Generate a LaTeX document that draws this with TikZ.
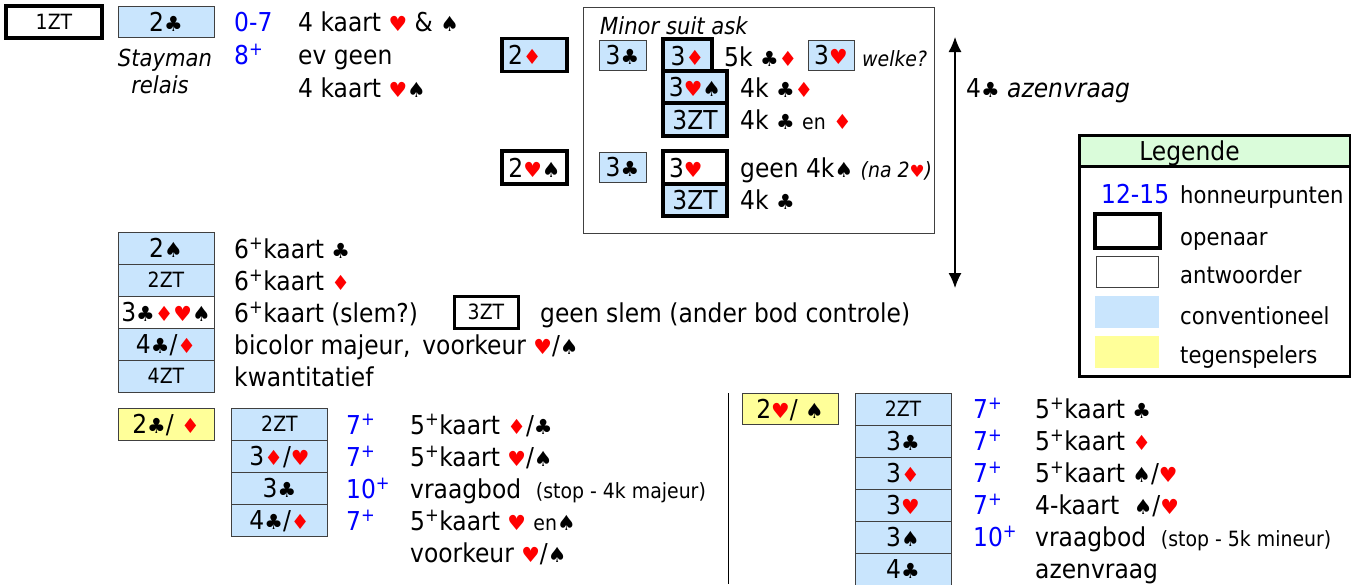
\documentclass[tikz,border=0pt]{standalone}
\usepackage{fontspec}
\setmainfont[FakeStretch=0.9]{DejaVu Sans}
\newfontfamily\suitfont[Scale=0.8]{DejaVu Sans}
\usepackage{xcolor}
\usepackage{tikz}
\usetikzlibrary{arrows.meta}
\definecolor{convblue}{HTML}{C9E5FD}
\definecolor{oppyellow}{HTML}{FFFF99}
\definecolor{legendgreen}{HTML}{DAFCDA}
\definecolor{ptsblue}{HTML}{0000FF}
\definecolor{suitred}{HTML}{FF0000}
\definecolor{boxgray}{HTML}{404040}
\newcommand{\sclub}{{\suitfont ♣}}
\newcommand{\sdia}{{\color{suitred}\suitfont ♦}}
\newcommand{\shrt}{{\color{suitred}\suitfont ♥}}
\newcommand{\sspd}{{\suitfont ♠}}
\newcommand{\plus}{\textsuperscript{+}}
\newcommand{\smalltxt}[1]{{\fontsize{21}{24}\selectfont #1}}

\begin{document}
\begin{tikzpicture}[x=1pt,y=-1pt,
	every node/.style={font=\fontsize{26}{30}\selectfont,inner sep=0pt,text height=19pt,text depth=0pt},
	txt/.style={anchor=west},
	pts/.style={anchor=west,text=ptsblue},
	small/.style={font=\fontsize{21}{24}\selectfont,text height=15pt},
	note/.style={font=\fontsize{23.5}{27}\selectfont\itshape},
	bid/.style={draw=boxgray,line width=0.8pt,minimum width=96pt,minimum height=32pt},
	conv/.style={bid,fill=convblue},
	opp/.style={bid,fill=oppyellow},
	opener/.style={draw=black,line width=3.6pt,minimum width=64pt,minimum height=32pt}]
	\useasboundingbox (0,0) rectangle (1351,584);
	% opening and Stayman
	\node[opener,fill=white,small,minimum width=96pt] (O1) at (54,22) {1ZT};
	\node[conv,minimum height=31pt] (S1) at (166,22) {2\sclub};
	\node[note] (S2) at (165,57) {Stayman};
	\node[note] (S3) at (160,84) {relais};
	\node[pts] (P1) at (234,22) {0-7};
	\node[pts] (P2) at (234,55) {8\plus};
	\node[txt] (R1) at (298,22) {4 kaart \shrt{} \& \sspd};
	\node[txt] (R2) at (298,55) {ev geen};
	\node[txt] (R3) at (298,88) {4 kaart \shrt\sspd};
	% minor suit ask
	\node[draw=boxgray,line width=0.8pt,minimum width=351pt,minimum height=226pt] (M0) at (758.5,120) {};
	\node[note,anchor=west] (M1) at (600,25) {Minor suit ask};
	\node[opener,fill=convblue,minimum width=65pt,minimum height=33pt,text width=53pt,align=left] (M2) at (534.5,55) {2\sdia};
	\node[conv,minimum width=47pt,minimum height=30pt] (M3) at (622.5,55) {3\sclub};
	\node[opener,fill=convblue,minimum width=49pt,minimum height=33pt] (M4) at (687.5,55.5) {3\sdia};
	\node[txt] (M5) at (724,57) {5k \sclub\sdia};
	\node[conv,minimum width=46pt,minimum height=30pt] (M6) at (831,55) {3\shrt};
	\node[note,font=\fontsize{21}{24}\selectfont\itshape,anchor=west] (M7) at (862,57) {welke?};
	\node[opener,fill=convblue] (M8) at (695,87) {3\shrt\sspd};
	\node[txt] (M9) at (740,88) {4k \sclub\sdia};
	\node[opener,fill=convblue,minimum height=33pt] (M10) at (695,119.5) {3ZT};
	\node[txt] (M11) at (740,120) {4k \sclub{} \smalltxt{en} \sdia};
	\node[opener,fill=white,minimum width=65pt,minimum height=33pt] (M12) at (534.5,167.5) {2\shrt\sspd};
	\node[conv,minimum width=47pt,minimum height=30pt] (M13) at (622.5,167) {3\sclub};
	\node[opener,fill=white,minimum height=33pt,text width=52pt,align=left] (M14) at (695,167.5) {3\shrt};
	\node[txt] (M15) at (740,168) {geen 4k\sspd{} {\fontsize{21}{24}\selectfont\itshape (na 2\shrt)}};
	\node[opener,fill=convblue] (M16) at (695,200) {3ZT};
	\node[txt] (M17) at (740,200) {4k \sclub};
	% ace ask range
	\coordinate (A1) at (955,37);
	\coordinate (A2) at (955,288);
	\draw[{Latex[length=15pt,width=13pt]}-{Latex[length=15pt,width=13pt]},line width=1.2pt] (A1) -- (A2);
	\node[txt] (A3) at (966,88) {4\sclub{} \textit{azenvraag}};
	% legend
	\node[draw=black,line width=3pt,fill=white,minimum width=271pt,minimum height=241pt] (L0) at (1214.5,255.5) {};
	\node[draw=black,line width=3pt,fill=legendgreen,minimum width=271pt,minimum height=31pt] (L1) at (1214.5,150.5) {Legende\hspace*{50pt}};
	\node[pts] (L2) at (1101,194) {12-15};
	\node[txt,font=\fontsize{23.5}{27}\selectfont] (L3) at (1180,194) {honneurpunten};
	\node[draw=black,line width=3.6pt,minimum width=65pt,minimum height=34pt] (L4) at (1127.5,231) {};
	\node[txt,font=\fontsize{23.5}{27}\selectfont] (L5) at (1180,236) {openaar};
	\node[draw=boxgray,line width=0.8pt,minimum width=62pt,minimum height=31pt] (L6) at (1127,271.5) {};
	\node[txt,font=\fontsize{23.5}{27}\selectfont] (L7) at (1180,274) {antwoorder};
	\node[fill=convblue,minimum width=64pt,minimum height=32pt] (L8) at (1127,312) {};
	\node[txt,font=\fontsize{23.5}{27}\selectfont] (L9) at (1180,315) {conventioneel};
	\node[fill=oppyellow,minimum width=64pt,minimum height=32pt] (L10) at (1127,352) {};
	\node[txt,font=\fontsize{23.5}{27}\selectfont] (L11) at (1180,354) {tegenspelers};
	% other responses
	\node[conv] (C1) at (166,248) {2\sspd};
	\node[conv,small] (C2) at (166,280) {2ZT};
	\node[bid,fill=white] (C3) at (166,312) {3\sclub\sdia\shrt\sspd};
	\node[conv] (C4) at (166,344) {4\sclub/\sdia};
	\node[conv,small] (C5) at (166,376) {4ZT};
	\node[txt] (C6) at (234,249) {6\plus kaart \sclub};
	\node[txt] (C7) at (234,281) {6\plus kaart \sdia};
	\node[txt] (C8) at (234,313) {6\plus kaart (slem?)};
	\node[txt] (C9) at (234,345) {bicolor majeur,\, voorkeur \shrt/\sspd};
	\node[txt] (C10) at (234,377) {kwantitatief};
	\node[opener,fill=white,small,line width=3pt] (C11) at (486,312) {3ZT};
	\node[txt] (C12) at (540,313) {geen slem (ander bod controle)};
	% overcall 2 minor
	\node[opp] (B1) at (166,424) {2\sclub/ \sdia};
	\node[conv,small] (B2) at (279.5,424) {2ZT};
	\node[conv] (B3) at (279.5,456) {3\sdia/\shrt};
	\node[conv] (B4) at (279.5,488) {3\sclub};
	\node[conv] (B5) at (279.5,520) {4\sclub/\sdia};
	\node[pts] (B6) at (346,425) {7\plus};
	\node[pts] (B7) at (346,457) {7\plus};
	\node[pts] (B8) at (346,489) {10\plus};
	\node[pts] (B9) at (346,521) {7\plus};
	\node[txt] (B10) at (410,425) {5\plus kaart \sdia/\sclub};
	\node[txt] (B11) at (410,457) {5\plus kaart \shrt/\sspd};
	\node[txt] (B12) at (410,489) {vraagbod\; \smalltxt{(stop - 4k majeur)}};
	\node[txt] (B13) at (410,521) {5\plus kaart \shrt{} \smalltxt{en}\sspd};
	\node[txt] (B14) at (410,553) {voorkeur \shrt/\sspd};
	\coordinate (D1) at (728,393);
	\coordinate (D2) at (728,584);
	\draw[line width=1pt] (D1) -- (D2);
	% overcall 2 major
	\node[opp,minimum height=31pt] (H1) at (790,408.5) {2\shrt/ \sspd};
	\node[conv,small] (H2) at (903,409) {2ZT};
	\node[conv] (H3) at (903,441) {3\sclub};
	\node[conv] (H4) at (903,473) {3\sdia};
	\node[conv] (H5) at (903,505) {3\shrt};
	\node[conv] (H6) at (903,537) {3\sspd};
	\node[conv] (H7) at (903,569) {4\sclub};
	\node[pts] (H8) at (973,409) {7\plus};
	\node[pts] (H9) at (973,441) {7\plus};
	\node[pts] (H10) at (973,473) {7\plus};
	\node[pts] (H11) at (973,505) {7\plus};
	\node[pts] (H12) at (973,537) {10\plus};
	\node[txt] (H13) at (1035,409) {5\plus kaart \sclub};
	\node[txt] (H14) at (1035,441) {5\plus kaart \sdia};
	\node[txt] (H15) at (1035,473) {5\plus kaart \sspd/\shrt};
	\node[txt] (H16) at (1035,505) {4-kaart\; \sspd/\shrt};
	\node[txt] (H17) at (1035,537) {vraagbod\; \smalltxt{(stop - 5k mineur)}};
	\node[txt] (H18) at (1035,569) {azenvraag};
\end{tikzpicture}
\end{document}
